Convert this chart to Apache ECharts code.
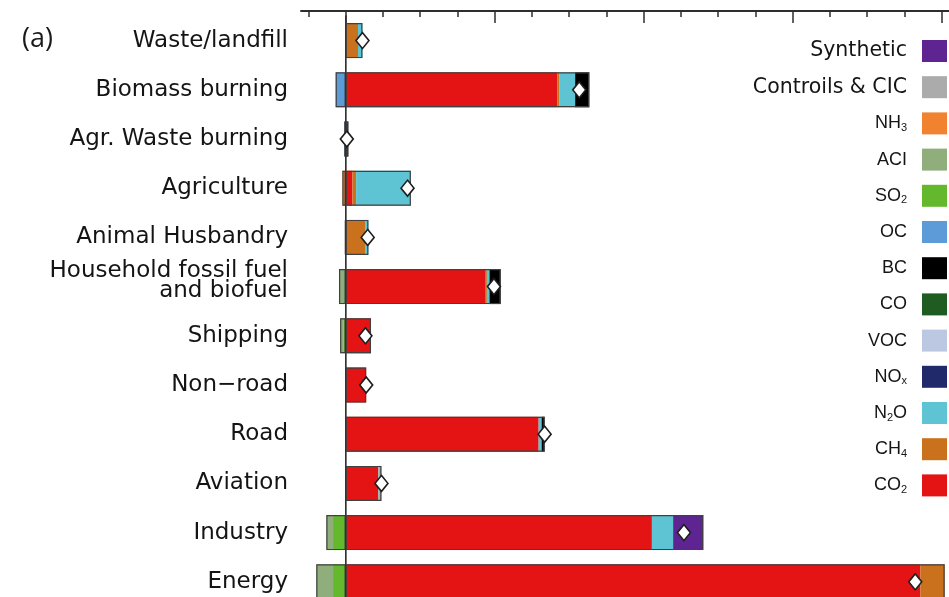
<!DOCTYPE html>
<html>
<head>
<meta charset="utf-8">
<script src="https://cdn.jsdelivr.net/npm/echarts@6/dist/echarts.min.js"></script>
<style>
  html, body { margin: 0; padding: 0; background: #fff; }
  #chart { width: 949px; height: 597px; }
</style>
</head>
<body>
<div id="chart"></div>
<script>
// Sectors, top to bottom
const sectors = [
  'Waste/landfill', 'Biomass burning', 'Agr. Waste burning', 'Agriculture',
  'Animal Husbandry', 'Household fossil fuel\nand biofuel', 'Shipping', 'Non\u2212road',
  'Road', 'Aviation', 'Industry', 'Energy'
];

// Contribution of each species per sector (same order as sectors)
const co2       = [0,    5.68, 0,     0.18, 0,     3.74, 0.68, 0.55, 5.18, 0.87, 8.22, 15.43];
const ch4       = [0.33, 0.05, 0,     0.10, 0.52,  0.05, 0,    0,    0,    0,    0,    0.65];
const n2o       = [0.12, 0.43, 0,     1.47, 0.09,  0.07, 0,    0,    0.08, 0,    0.57, 0];
const nox       = [0,    0,    0,     0,    0,     0,    0,    0,    0,    0,    0,    0];
const voc       = [0,    0,    0,     0,    0,     0,    0,    0,    0,    0,    0,    0];
const co        = [0,    0,    0,     0,    0,     0,    0,    0,    0,    0,    0,    0];
const bc        = [0,    0.38, 0.07,  0,    0,     0.30, 0,    0,    0.08, 0,    0,    0];
const oc        = [0,   -0.27, -0.04, 0,    0,     0,    0,    0,    0,    0,    0,    0];
const so2       = [0,    0,    0,     0,    0,     0,   -0.05, 0,    0,    0,   -0.34, -0.34];
const aci       = [0,    0,    0,     0,   -0.02, -0.18, -0.10, 0,    0,    0,   -0.18, -0.45];
const nh3       = [0,    0,    0,    -0.09, 0,     0,    0,    0,    0,    0,    0,    0];
const contrails = [0,    0,    0,     0,    0,     0,    0,    0,    0,    0.09, 0,    0];
const synthetic = [0,    0,    0,     0,    0,     0,    0,    0,    0,    0,    0.81, 0];

// Species in stacking order (nearest to zero first)
const species = [
  { name: 'CO2', data: co2, color: '#e41414' },
  { name: 'CH4', data: ch4, color: '#c9711c' },
  { name: 'N2O', data: n2o, color: '#5ec3d3' },
  { name: 'NOx', data: nox, color: '#202a6b' },
  { name: 'VOC', data: voc, color: '#bcc8e2' },
  { name: 'CO', data: co, color: '#1e5c22' },
  { name: 'BC', data: bc, color: '#000000' },
  { name: 'OC', data: oc, color: '#5c9bd8' },
  { name: 'SO2', data: so2, color: '#63b82b' },
  { name: 'ACI', data: aci, color: '#8fae7c' },
  { name: 'NH3', data: nh3, color: '#f08230' },
  { name: 'Controils & CIC', data: contrails, color: '#ababab' },
  { name: 'Synthetic', data: synthetic, color: '#5e2491' }
];

// Legend labels with subscripts
const legendLabels = {
  'Synthetic': '{geo|Synthetic}',
  'Controils & CIC': '{geo|Controils & CIC}',
  'NH3': '{chem|NH}{sub|3}',
  'ACI': '{chem|ACI}',
  'SO2': '{chem|SO}{sub|2}',
  'OC': '{chem|OC}',
  'BC': '{chem|BC}',
  'CO': '{chem|CO}',
  'VOC': '{chem|VOC}',
  'NOx': '{chem|NO}{sub|x}',
  'N2O': '{chem|N}{sub|2}{chem|O}',
  'CH4': '{chem|CH}{sub|4}',
  'CO2': '{chem|CO}{sub|2}'
};

const posTotal = sectors.map((_, i) => species.reduce((s, sp) => s + Math.max(sp.data[i], 0), 0));
const negTotal = sectors.map((_, i) => species.reduce((s, sp) => s + Math.min(sp.data[i], 0), 0));
const netTotal = sectors.map((_, i) => posTotal[i] + negTotal[i]);

const BAR_W = 35;
const OUTLINE = '#404040';

const series = species.map((sp, k) => ({
  name: sp.name,
  type: 'bar',
  stack: 'total',
  barWidth: BAR_W,
  barGap: '-100%',
  z: 2,
  itemStyle: { color: sp.color, borderWidth: 0 },
  data: sp.data,
  markLine: k === 0 ? {
    silent: true,
    symbol: 'none',
    label: { show: false },
    lineStyle: { color: '#2c3149', width: 1, type: 'solid' },
    data: [{ xAxis: 0 }]
  } : undefined
}));

// Outlines around the positive and negative parts of each bar
series.push({
  name: 'outlinePos', type: 'bar', stack: 'op', barWidth: BAR_W, barGap: '-100%', z: 3,
  itemStyle: { color: 'rgba(0,0,0,0)', borderColor: OUTLINE, borderWidth: 1.2 },
  data: posTotal
});
series.push({
  name: 'outlineNeg', type: 'bar', stack: 'on', barWidth: BAR_W, barGap: '-100%', z: 3,
  itemStyle: { color: 'rgba(0,0,0,0)', borderColor: OUTLINE, borderWidth: 1.2 },
  data: negTotal
});

// Net value markers
series.push({
  name: 'net', type: 'scatter', z: 5,
  symbol: 'diamond', symbolSize: [13, 16],
  itemStyle: { color: '#ffffff', borderColor: '#1e1e1e', borderWidth: 1.6, opacity: 1 },
  data: netTotal.map((v, i) => [v, i])
});

const chart = echarts.init(document.getElementById('chart'), null, { renderer: 'canvas' });

const majorTicks = [0, 4, 8, 12, 16];
const minorTicks = [-1, 1, 2, 3, 5, 6, 7, 9, 10, 11, 13, 14, 15];

// Two-line sector names sit a little higher than their bar
function sectorLabel(value) {
  if (value.indexOf('\n') < 0) return value;
  return value.split('\n').map(s => '{two|' + s + '}').join('\n') + '\n{gap| }';
}

chart.setOption({
  animation: false,
  backgroundColor: '#ffffff',
  title: {
    text: '(a)', left: 17, top: 21,
    textStyle: { fontFamily: 'Open Sans', fontWeight: 'normal', fontSize: 27, color: '#1a1a1a' }
  },
  grid: { left: 301, top: 16, width: 655.6, height: 590.4, containLabel: false, outerBoundsMode: 'none' },
  xAxis: [
    {
      type: 'value', position: 'top', offset: 5, min: -1.2, max: 16.4,
      axisLine: { show: true, lineStyle: { color: '#2e2e2e', width: 2 } },
      axisTick: { show: true, inside: true, length: 12, customValues: majorTicks,
                  lineStyle: { color: '#2e2e2e', width: 1.5 } },
      axisLabel: { show: false },
      splitLine: { show: false }
    },
    {
      type: 'value', position: 'top', offset: 5, min: -1.2, max: 16.4,
      axisLine: { show: false },
      axisTick: { show: true, inside: true, length: 6, customValues: minorTicks,
                  lineStyle: { color: '#2e2e2e', width: 1.5 } },
      axisLabel: { show: false },
      splitLine: { show: false }
    }
  ],
  yAxis: {
    type: 'category', inverse: true, data: sectors,
    axisLine: { show: true, lineStyle: { color: '#777777', width: 2 } },
    axisTick: { show: false },
    splitLine: { show: false },
    axisLabel: {
      margin: 13, fontFamily: 'DejaVu Sans', fontSize: 23, color: '#141414',
      lineHeight: 21, align: 'right',
      formatter: sectorLabel,
      rich: {
        two: { fontFamily: 'DejaVu Sans', fontSize: 23, lineHeight: 20, color: '#141414', align: 'right' },
        gap: { fontSize: 4, lineHeight: 12 }
      }
    }
  },
  legend: {
    orient: 'vertical', right: 2, top: 40, padding: 0,
    align: 'right', icon: 'rect', itemWidth: 25, itemHeight: 22, itemGap: 14.2,
    selectedMode: false,
    data: species.map(s => s.name).reverse(),
    formatter: name => legendLabels[name],
    textStyle: {
      color: '#151515', padding: [0, 10, 0, 0],
      rich: {
        geo: { fontFamily: 'DejaVu Sans', fontSize: 20.5, lineHeight: 21, color: '#151515' },
        chem: { fontFamily: 'Liberation Sans', fontSize: 18, lineHeight: 20, color: '#151515' },
        sub: { fontFamily: 'Liberation Sans', fontSize: 11, lineHeight: 6, verticalAlign: 'bottom', color: '#151515' }
      }
    }
  },
  series: series
});
</script>
</body>
</html>
